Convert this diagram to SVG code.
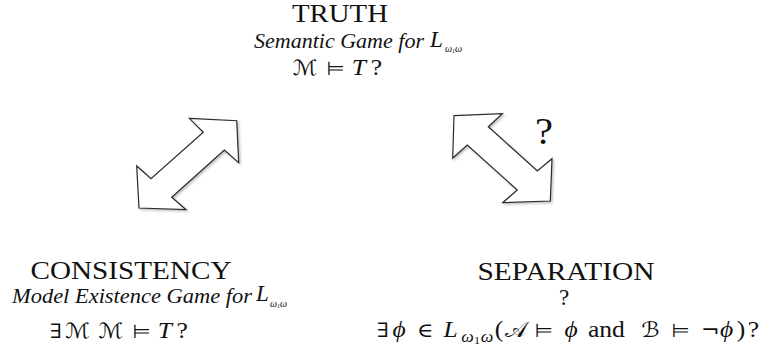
<svg xmlns="http://www.w3.org/2000/svg" width="769" height="354" viewBox="0 0 769 354">
<style>
  .title { font-family: "Liberation Serif", "DejaVu Serif", serif; font-size: 26px; fill: #111; text-anchor: middle; }
  .sub { font-family: "Liberation Serif", "DejaVu Serif", serif; font-style: italic; font-size: 20px; fill: #111; }
  .bigL { font-family: "Liberation Serif", "DejaVu Serif", serif; font-style: italic; font-size: 23px; fill: #111; }
  .subs { font-family: "Liberation Serif", "DejaVu Serif", serif; font-style: italic; fill: #111; }
  .math { font-family: "Liberation Serif", "DejaVu Serif", "DejaVu Sans", serif; font-size: 23px; fill: #111; }
  .mi { font-style: italic; }
  .sym { font-family: "DejaVu Serif", "DejaVu Sans", serif; font-size: 20px; }
  .cal { font-family: "DejaVu Sans", "DejaVu Serif", sans-serif; font-size: 21px; }
  .rel { font-family: "DejaVu Sans", "DejaVu Serif", sans-serif; font-size: 19px; }
  .arrow { fill: #fff; stroke: #2a2a2a; stroke-width: 1.2; stroke-linejoin: miter; filter: url(#shadow); }
  .q { font-family: "Liberation Serif", "DejaVu Serif", serif; font-size: 37px; fill: #111; }
</style>
<defs>
  <filter id="shadow" x="-20%" y="-20%" width="140%" height="140%">
    <feDropShadow dx="1.5" dy="1.5" stdDeviation="1.2" flood-color="#000" flood-opacity="0.25"/>
  </filter>
</defs>
<rect width="769" height="354" fill="#fff"/>

<g id="connectors">
  <polygon class="arrow" points="189.3,118.3 236.7,120.7 238.7,162.7 224.3,150 171.7,197.3 186,209.7 139,208 136.7,166 151,178.7 203.3,132.3"/>
  <polygon class="arrow" points="454,115.7 502.3,113.7 488.3,126.7 537.3,171 552,158.7 550.3,201 502.7,202.7 517.3,190 467.3,145 452.7,158"/>
  <text class="q" x="535" y="144" textLength="18" lengthAdjust="spacingAndGlyphs">?</text>
</g>

<g id="truth">
  <text class="title" x="340" y="22" textLength="96" lengthAdjust="spacingAndGlyphs">TRUTH</text>
  <text class="sub" x="254" y="48" textLength="170" lengthAdjust="spacingAndGlyphs">Semantic Game for</text>
  <text class="bigL" x="430" y="47">L</text>
  <text class="subs" x="445" y="52"><tspan font-size="10">ω</tspan><tspan font-size="6" dy="1">1</tspan><tspan font-size="10" dy="-1">ω</tspan></text>
  <g transform="translate(293,75) scale(1.11,1)">
    <text class="math"><tspan class="cal" x="0">ℳ</tspan><tspan class="rel" x="30">⊨</tspan><tspan class="mi" x="53">T</tspan><tspan x="70">?</tspan></text>
  </g>
</g>

<g id="consistency">
  <text class="title" x="131" y="279" textLength="201" lengthAdjust="spacingAndGlyphs">CONSISTENCY</text>
  <text class="sub" x="12" y="303" textLength="240" lengthAdjust="spacingAndGlyphs">Model Existence Game for</text>
  <text class="bigL" x="256" y="301">L</text>
  <text class="subs" x="270" y="307"><tspan font-size="10">ω</tspan><tspan font-size="6" dy="1">1</tspan><tspan font-size="10" dy="-1">ω</tspan></text>
  <g transform="translate(50,338) scale(1.11,1)">
    <text class="math"><tspan class="sym" x="0">∃</tspan><tspan class="cal" x="14">ℳ</tspan><tspan class="cal" x="44">ℳ</tspan><tspan class="rel" x="74">⊨</tspan><tspan class="mi" x="97">T</tspan><tspan x="114">?</tspan></text>
  </g>
</g>

<g id="separation">
  <text class="title" x="566" y="280" textLength="177" lengthAdjust="spacingAndGlyphs">SEPARATION</text>
  <text class="math" x="564" y="305" text-anchor="middle" font-size="25">?</text>
  <g transform="translate(377,337) scale(1.11,1)">
    <text class="math"><tspan class="sym" x="0">∃</tspan><tspan class="mi" x="14">ϕ</tspan><tspan class="sym" x="36">∈</tspan><tspan class="mi" x="60">L</tspan><tspan class="mi" font-size="16" x="76" dy="5">ω</tspan><tspan font-size="11" x="87.5" dy="2">1</tspan><tspan class="mi" font-size="16" x="93.5" dy="-2">ω</tspan><tspan x="106" dy="-5">(</tspan><tspan class="cal" x="115">𝒜</tspan><tspan class="rel" x="142">⊨</tspan><tspan class="mi" x="169">ϕ</tspan><tspan x="190">and</tspan><tspan class="cal" x="238">ℬ</tspan><tspan class="rel" x="265">⊨</tspan><tspan class="sym" x="292">¬</tspan><tspan class="mi" x="309">ϕ</tspan><tspan x="324">)</tspan><tspan x="334">?</tspan></text>
  </g>
</g>
</svg>
